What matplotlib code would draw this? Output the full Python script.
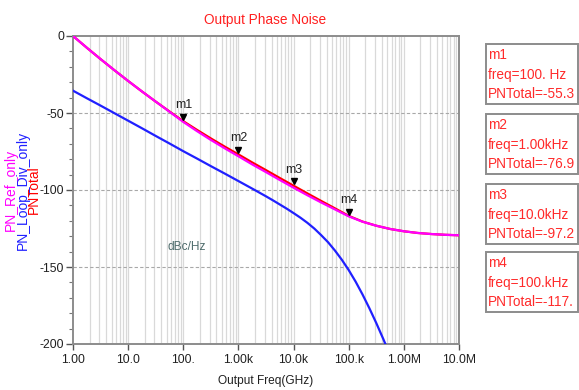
import numpy as np
import matplotlib
matplotlib.use("Agg")
import matplotlib.pyplot as plt
from matplotlib.patches import Rectangle
from matplotlib.ticker import FixedLocator, NullFormatter
import matplotlib.transforms as mtransforms

# ---------------- data ----------------
freq_hz = [1, 1.778, 3.162, 5.623, 10, 17.78, 31.62, 56.23, 100, 177.8, 316.2, 562.3,
           1e3, 1778, 3162, 5623, 1e4, 17780, 31620, 56230, 1e5, 177800, 316200, 562300,
           1e6, 1778000, 3162000, 5623000, 1e7]

pn_total = [0.0, -7.6, -15.0, -22.2, -29.2, -36.0, -42.6, -49.0, -55.3, -61.0, -66.5, -71.8,
            -76.9, -82.1, -87.1, -92.2, -97.2, -102.2, -107.1, -111.9, -116.8, -120.5, -123.2,
            -125.3, -126.8, -127.9, -128.6, -129.1, -129.4]

pn_ref_only = [0.0, -7.6, -15.0, -22.2, -29.2, -36.0, -42.6, -49.2, -55.8, -61.8, -67.5, -72.9,
               -78.1, -83.4, -88.4, -93.5, -98.5, -103.4, -108.1, -112.6, -117.1, -120.6, -123.2,
               -125.3, -126.8, -127.9, -128.6, -129.1, -129.4]

loop_freq_hz = [1, 1.778, 3.162, 5.623, 10, 17.78, 31.62, 56.23, 100, 177.8, 316.2, 562.3,
                1e3, 1778, 3162, 4217, 5623, 7499, 1e4, 13340, 17780, 23710, 31620, 42170,
                56230, 74990, 1e5, 133400, 177800, 237100, 316200, 421700, 562300]

pn_loop_div_only = [-35.5, -40.4, -45.2, -50.1, -55.0, -59.9, -64.9, -69.8, -74.8, -79.6,
                    -84.5, -89.3, -94.2, -99.1, -104.1, -106.7, -109.4, -112.1, -115.0, -118.0,
                    -121.3, -125.0, -129.3, -133.9, -139.3, -145.3, -152.0, -159.5, -167.8,
                    -176.8, -186.4, -196.6, -207.3]

x_tick_vals = [1, 10, 100, 1e3, 1e4, 1e5, 1e6, 1e7]
x_tick_labels = ["1.00", "10.0", "100.", "1.00k", "10.0k", "100.k", "1.00M", "10.0M"]
y_tick_vals = [0, -50, -100, -150, -200]
y_tick_labels = ["0", "-50", "-100", "-150", "-200"]

marker_names = ["m1", "m2", "m3", "m4"]
marker_freqs = [100, 1e3, 1e4, 1e5]
marker_vals = [-55.3, -76.9, -97.2, -117.0]
marker_freq_text = ["100. Hz", "1.00kHz", "10.0kHz", "100.kHz"]
marker_val_text = ["-55.3", "-76.9", "-97.2", "-117."]

series_names = ["PN_Ref_only", "PN_Loop_Div_only", "PNTotal"]

# ---------------- styling ----------------
W, H = 579, 390
FONT = ["Liberation Sans", "DejaVu Sans"]
C_RED = "#ff0000"
C_MAG = "#ff00ff"
C_BLUE = "#2020ff"

fig = plt.figure(figsize=(W / 100, H / 100), dpi=100)
fig.patch.set_facecolor("white")

def fx(x):
    return x / W

def fy(y):
    return 1 - y / H

ax_l, ax_r, ax_t, ax_b = 73, 459, 36, 344
ax = fig.add_axes([fx(ax_l), fy(ax_b), (ax_r - ax_l) / W, (ax_b - ax_t) / H])
ax.set_xscale("log")
ax.set_xlim(1, 1e7)
ax.set_ylim(-200, 0)

# grid
minor_x = [m * 10 ** d for d in range(7) for m in range(2, 10)]
ax.xaxis.set_minor_locator(FixedLocator(minor_x))
ax.xaxis.set_minor_formatter(NullFormatter())
ax.set_xticks(x_tick_vals)
ax.set_xticklabels(x_tick_labels)
ax.set_yticks(y_tick_vals)
ax.set_yticklabels(y_tick_labels)
ax.yaxis.set_minor_locator(FixedLocator([v for v in range(-190, 0, 10) if v % 50 != 0]))

for xv in minor_x + x_tick_vals[1:-1]:
    ax.axvline(xv, color="#d9d9d9", lw=0.9, zorder=0)
for yv in [-50, -100, -150]:
    ax.axhline(yv, color="#a8a8a8", lw=0.8, ls=(0, (3, 2)), zorder=0)

for s in ax.spines.values():
    s.set_color("#8c8c8c")
    s.set_linewidth(1.4)

ax.tick_params(axis="x", which="major", direction="out", length=4, width=1, color="#555555",
               pad=3, labelsize=8.7)
ax.tick_params(axis="x", which="minor", length=0)
ax.tick_params(axis="y", which="major", direction="out", length=5, width=1, color="#555555",
               pad=1.5, labelsize=8.7)
ax.tick_params(axis="y", which="minor", direction="out", length=3, width=0.8, color="#777777")
for lab in ax.get_xticklabels() + ax.get_yticklabels():
    lab.set_family(FONT)
    lab.set_color("#202020")

# curves
ax.plot(freq_hz, pn_total, color=C_RED, lw=1.6, zorder=3)
ax.plot(loop_freq_hz, pn_loop_div_only, color=C_BLUE, lw=1.6, zorder=3)
ax.plot(freq_hz, pn_ref_only, color=C_MAG, lw=1.6, zorder=4)

# markers
tri_tr = mtransforms.offset_copy(ax.transData, fig=fig, x=0, y=3.2, units="points")
for name, f, v in zip(marker_names, marker_freqs, marker_vals):
    ax.plot([f], [v], marker="v", color="black", markersize=4.8, transform=tri_tr,
            zorder=6, clip_on=False)
    ax.annotate(name, (f, v), xytext=(0, 11.5), textcoords="offset points",
                ha="center", va="center", fontsize=9, family=FONT, color="#202020",
                zorder=6)

# title, labels
fig.text(fx(265.5), fy(20), "Output Phase Noise", ha="center", va="center",
         fontsize=9.8, family=FONT, color="#ff2020")
fig.text(fx(266), fy(381), "Output Freq(GHz)", ha="center", va="center",
         fontsize=8.6, family=FONT, color="#202020")
fig.text(fx(187), fy(246.5), "dBc/Hz", ha="center", va="center",
         fontsize=8.6, family=FONT, color="#4d6b6b")

for xpos, name, col in zip([11, 22.5, 34], series_names, [C_MAG, C_BLUE, C_RED]):
    fig.text(fx(xpos), fy(190), name, rotation=90, ha="center", va="center",
             fontsize=10, family=FONT, color=col)

# marker readout boxes
box_tops = [44, 114, 184, 252]
for top, name, ft, vt in zip(box_tops, marker_names, marker_freq_text, marker_val_text):
    rect = Rectangle((fx(486), fy(top + 60)), (578 - 486) / W, 60 / H,
                     transform=fig.transFigure, facecolor="white", edgecolor="#8c8c8c",
                     lw=1.4, zorder=1)
    fig.add_artist(rect)
    lines = [name, "freq=" + ft, "PNTotal=" + vt]
    for i, t in enumerate(lines):
        fig.text(fx(488), fy(top + 11 + 19.5 * i), t, ha="left", va="center",
                 fontsize=9.8, family=FONT, color="#ff2a2a", zorder=2)

fig.savefig("out.png", dpi=100)
